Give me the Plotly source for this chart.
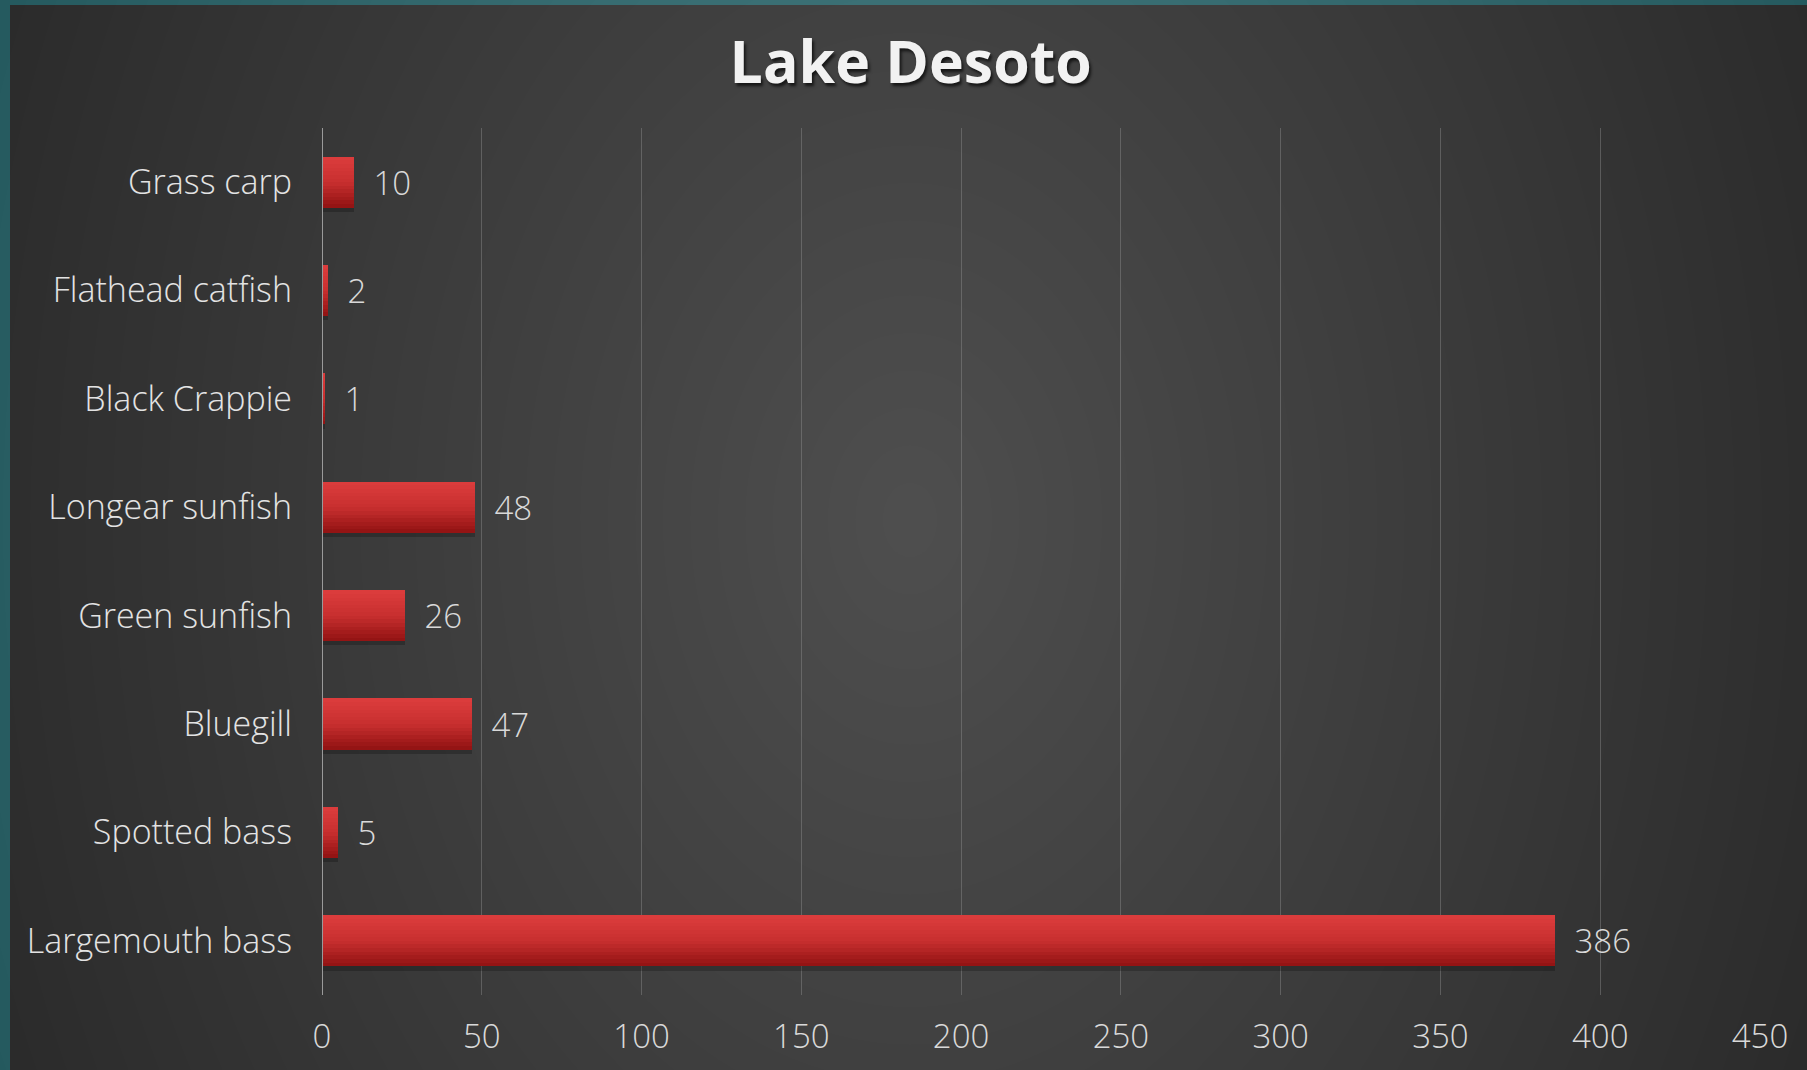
import plotly.graph_objects as go

# Data (bottom to top in plot order)
species = ["Largemouth bass", "Spotted bass", "Bluegill", "Green sunfish",
           "Longear sunfish", "Black Crappie", "Flathead catfish", "Grass carp"]
counts = [386, 5, 47, 26, 48, 1, 2, 10]
tick_vals = [0, 50, 100, 150, 200, 250, 300, 350, 400, 450]

W, H = 1807, 1070
ML, MR, MT, MB = 322, 47, 128, 75
PW, PH = W - ML - MR, H - MT - MB

def px_x(p):
    return (p - ML) / PW

def px_y(p):
    return (H - MB - p) / PH

FONT = "Open Sans"
fig = go.Figure()

bar_w = 0.47
# shadow
fig.add_trace(go.Bar(
    y=species, x=counts, orientation="h", width=bar_w, offset=-bar_w / 2 - 0.04,
    marker=dict(color="rgba(0,0,0,0.22)", line=dict(width=0)),
    hoverinfo="skip", showlegend=False))

# gradient bands (bottom dark -> top light)
N = 14
top = (219, 60, 60)
mid = (200, 48, 48)
bot = (148, 20, 20)
for k in range(N):
    t = k / (N - 1)
    if t < 0.5:
        u = t / 0.5
        c = tuple(int(bot[i] + (mid[i] - bot[i]) * u) for i in range(3))
    else:
        u = (t - 0.5) / 0.5
        c = tuple(int(mid[i] + (top[i] - mid[i]) * u) for i in range(3))
    fig.add_trace(go.Bar(
        y=species, x=counts, orientation="h",
        width=bar_w / N + 0.002, offset=-bar_w / 2 + k * bar_w / N,
        marker=dict(color="rgb(%d,%d,%d)" % c, line=dict(width=0)),
        hoverinfo="skip", showlegend=False))

# label carrier
fig.add_trace(go.Bar(
    y=species, x=counts, orientation="h", width=bar_w, offset=-bar_w / 2,
    marker=dict(color="rgba(0,0,0,0)", line=dict(width=0)),
    texttemplate="\u2002%{x}", textposition="outside",
    textfont=dict(family=FONT, size=33, color="#d9d9d9", weight=300),
    cliponaxis=False, showlegend=False, name="Count"))

shapes = []
# dark panel over teal frame
shapes.append(dict(type="rect", xref="paper", yref="paper",
                   x0=px_x(10), x1=px_x(W + 20), y0=px_y(H + 20), y1=px_y(5),
                   fillcolor="#262626", line=dict(width=0), layer="below"))
# radial glow
cx, cy = px_x(910), px_y(520)
NG = 40
for i in range(NG):
    r = 1 - i / NG
    rx = 1100 * r / PW
    ry = 1500 * r / PH
    shapes.append(dict(type="circle", xref="paper", yref="paper",
                       x0=cx - rx, x1=cx + rx, y0=cy - ry, y1=cy + ry,
                       fillcolor="rgba(255,255,255,0.0069)", line=dict(width=0),
                       layer="below"))
# y axis line
shapes.append(dict(type="line", xref="x", yref="paper", x0=0, x1=0, y0=0, y1=1,
                   line=dict(color="#9a9a9a", width=2), layer="above"))

fig.update_layout(
    width=W, height=H,
    paper_bgcolor="#20555a", plot_bgcolor="rgba(0,0,0,0)",
    margin=dict(l=ML, r=MR, t=MT, b=MB),
    barmode="overlay", bargap=0,
    title=dict(text="<b>Lake Desoto</b>", x=0.504, xanchor="center",
               y=1 - 62 / H, yanchor="middle", yref="container",
               font=dict(family=FONT, size=59, color="#f2f2f2",
                         shadow="2px 3px 3px rgba(0,0,0,0.65)")),
    xaxis=dict(range=[0, 450], tickvals=tick_vals, showgrid=True,
               gridcolor="rgba(150,150,150,0.4)", gridwidth=1.3,
               zeroline=False, showline=False, ticks="",
               tickfont=dict(family=FONT, size=33, color="#d9d9d9", weight=300),
               ticklabelstandoff=19),
    yaxis=dict(categoryorder="array", categoryarray=species,
               showgrid=False, zeroline=False, showline=False, ticks="",
               tickfont=dict(family=FONT, size=34, color="#e3e3e3", weight=300),
               ticklabelstandoff=29),
    shapes=shapes,
    showlegend=False,
)

fig.write_html("out.html", config={"displayModeBar": False},
               post_script="document.body.style.margin='0';document.body.style.padding='0';")
